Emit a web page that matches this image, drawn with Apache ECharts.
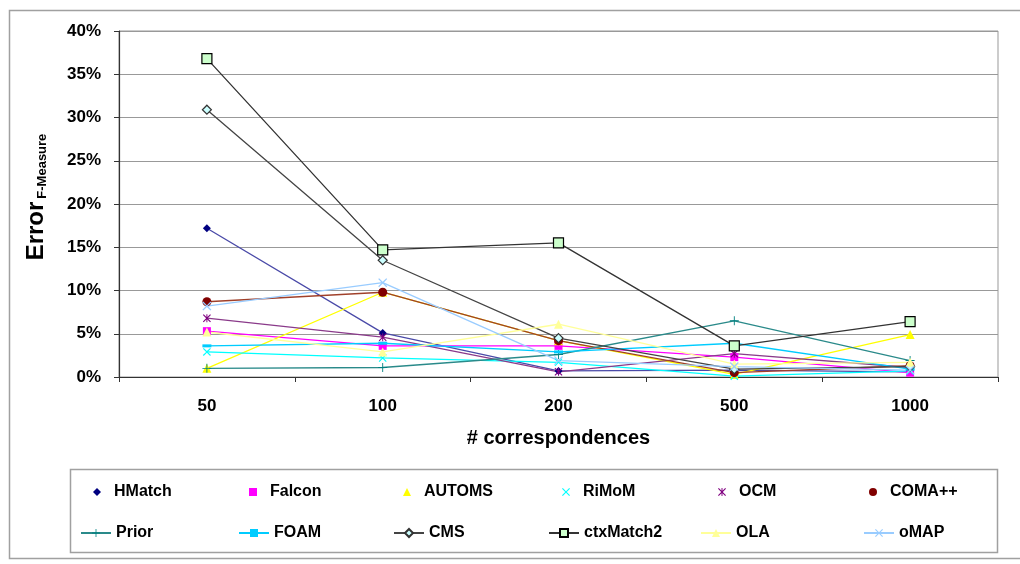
<!DOCTYPE html>
<html>
<head>
	<meta charset="utf-8"/>
	<title>Error F-Measure</title>
	<style>
		* { margin: 0; padding: 0; }
		body { background: #fff; }
	</style>
</head>
<body>
	<div id="myChart" style="width: 1020px;height:564px;"></div>
	<script src="https://cdn.jsdelivr.net/npm/echarts@6/dist/echarts.min.js"></script>
	<script>
		// data (in %)
		var categories = ['50', '100', '200', '500', '1000'];
		var yTicks = [0, 5, 10, 15, 20, 25, 30, 35, 40];

		var hmatch = [17.2, 5.1, 0.7, 0.8, 0.6];
		var falcon = [5.3, 3.6, 3.6, 2.3, 0.5];
		var automs = [1.0, 9.8, 4.2, 0.3, 4.9];
		var rimom = [2.9, 2.2, 1.7, 0.1, 0.7];
		var ocm = [6.8, 4.6, 0.6, 2.7, 1.1];
		var coma = [8.7, 9.8, 4.2, 0.5, 1.3];
		var prior = [1.0, 1.1, 2.6, 6.5, 1.9];
		var foam = [3.6, 3.9, 2.9, 3.9, 0.9];
		var cms = [30.9, 13.5, 4.5, 0.9, 1.2];
		var ctxMatch2 = [36.8, 14.7, 15.5, 3.6, 6.4];
		var ola = [5.2, 2.9, 6.1, 1.5, 1.7];
		var omap = [8.2, 10.9, 1.9, 1.2, 0.8];

		// marker shapes
		var xPath = 'path://M0,1L1,0L5,4L9,0L10,1L6,5L10,9L9,10L5,6L1,10L0,9L4,5Z';
		var starPath = 'path://M0,1L1,0L5,4L9,0L10,1L6,5L10,9L9,10L5,6L1,10L0,9L4,5Z M4.4,0L5.6,0L5.6,10L4.4,10Z';
		var plusPath = 'path://M4.5,0L5.5,0L5.5,4.5L10,4.5L10,5.5L5.5,5.5L5.5,10L4.5,10L4.5,5.5L0,5.5L0,4.5L4.5,4.5Z';

		var seriesDefs = [
			{name: 'HMatch', data: hmatch, color: '#000080', line: '#4a4aa8', symbol: 'diamond', size: 8},
			{name: 'Falcon', data: falcon, color: '#ff00ff', line: '#ff00ff', symbol: 'rect', size: 8},
			{name: 'AUTOMS', data: automs, color: '#ffff00', line: '#ffff00', symbol: 'triangle', size: 9},
			{name: 'RiMoM', data: rimom, color: '#00ffff', line: '#00ffff', symbol: xPath, size: 8},
			{name: 'OCM', data: ocm, color: '#800080', line: '#8a3a8a', symbol: starPath, size: 8},
			{name: 'COMA++', data: coma, color: '#800000', line: '#a0402a', symbol: 'circle', size: 9},
			{name: 'Prior', data: prior, color: '#008080', line: '#2a8a8a', symbol: plusPath, size: 9},
			{name: 'FOAM', data: foam, color: '#00ccff', line: '#00ccff', symbol: 'rect', size: [9, 3]},
			{name: 'CMS', data: cms, color: '#ccffff', line: '#444444', symbol: 'diamond', size: 9, border: '#333333'},
			{name: 'ctxMatch2', data: ctxMatch2, color: '#ccffcc', line: '#333333', symbol: 'rect', size: 10, border: '#000000'},
			{name: 'OLA', data: ola, color: '#ffff99', line: '#ffff99', symbol: 'triangle', size: 9},
			{name: 'oMAP', data: omap, color: '#99ccff', line: '#99ccff', symbol: xPath, size: 9}
		];

		// legend layout: 2 rows of 6
		var row1Left = [88, 244, 398, 557, 713, 864];
		var row2Left = [75, 233, 388, 543, 695, 858];

		var series = seriesDefs.map(function (d) {
			return {
				name: d.name,
				type: 'line',
				data: d.data,
				symbol: d.symbol,
				symbolSize: d.size,
				symbolKeepAspect: true,
				lineStyle: {color: d.line, width: 1.3},
				itemStyle: {
					color: d.color,
					borderColor: d.border || d.color,
					borderWidth: d.border ? 1.2 : 0
				},
				emphasis: {disabled: true},
				animation: false
			};
		});

		var legendText = {fontFamily: 'Liberation Sans', fontWeight: 'bold', fontSize: 16, color: '#000'};
		var legends = [];
		seriesDefs.forEach(function (d, i) {
			if (i < 6) {
				legends.push({
					left: row1Left[i], top: 479,
					data: [{name: d.name, icon: d.symbol}],
					itemWidth: 8, itemHeight: 8,
					textStyle: Object.assign({padding: [0, 0, 0, 8]}, legendText),
					selectedMode: false
				});
			} else {
				legends.push({
					left: row2Left[i - 6], top: 520,
					data: [d.name],
					itemWidth: 30, itemHeight: 10,
					textStyle: legendText,
					selectedMode: false
				});
			}
		});

		var myChart = echarts.init(document.getElementById('myChart'));

		var option = {
			backgroundColor: '#fff',
			graphic: [
				{type: 'rect', shape: {x: 9.5, y: 10.5, width: 1020, height: 548}, style: {fill: 'none', stroke: '#a0a0a0', lineWidth: 1.5}, silent: true},
				{type: 'rect', shape: {x: 70.5, y: 469.5, width: 927, height: 83}, style: {fill: 'none', stroke: '#a0a0a0', lineWidth: 1.5}, silent: true}
			],
			legend: legends,
			grid: {
				left: 119, right: 22, top: 31, bottom: 187,
				show: true, borderColor: '#999', borderWidth: 1
			},
			xAxis: {
				type: 'category',
				data: categories,
				boundaryGap: true,
				name: '# correspondences',
				nameLocation: 'middle',
				nameGap: 51,
				nameTextStyle: {fontFamily: 'Liberation Sans', fontWeight: 'bold', fontSize: 20, color: '#000'},
				axisLine: {lineStyle: {color: '#333', width: 1.2}},
				axisTick: {show: true, length: 5, lineStyle: {color: '#333'}},
				axisLabel: {margin: 21, fontFamily: 'Liberation Sans', fontWeight: 'bold', fontSize: 17, color: '#000'}
			},
			yAxis: {
				type: 'value',
				min: yTicks[0],
				max: yTicks[yTicks.length - 1],
				interval: 5,
				name: '{a|Error}{b|F-Measure}',
				nameLocation: 'middle',
				nameGap: 70,
				nameRotate: 90,
				nameTextStyle: {
					padding: [0, 0, 0, 14],
					rich: {
						a: {fontFamily: 'Liberation Sans', fontWeight: 'bold', fontSize: 24, color: '#000'},
						b: {fontFamily: 'Liberation Sans', fontWeight: 'bold', fontSize: 13, color: '#000', padding: [12, 0, 0, 3]}
					}
				},
				axisLine: {show: true, lineStyle: {color: '#333', width: 1.2}},
				axisTick: {show: true, length: 5, lineStyle: {color: '#333'}},
				splitLine: {lineStyle: {color: '#999', width: 1.2}},
				axisLabel: {
					margin: 18,
					formatter: '{value}%',
					fontFamily: 'Liberation Sans', fontWeight: 'bold', fontSize: 17, color: '#000'
				}
			},
			series: series
		};

		myChart.setOption(option);
	</script>
</body>
</html>
